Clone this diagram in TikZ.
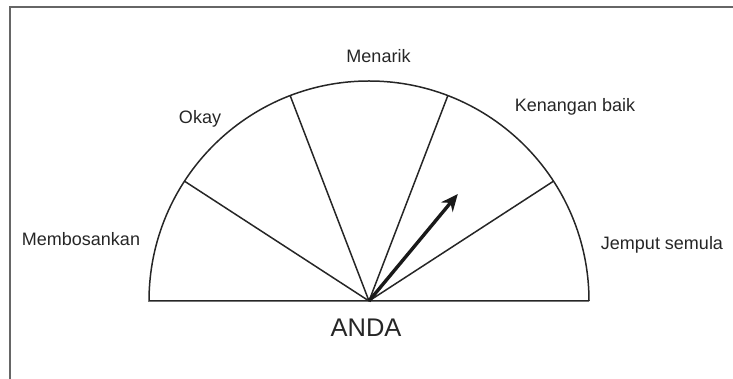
\documentclass[tikz,border=0pt]{standalone}
\usepackage{fontspec}
\setmainfont{Liberation Sans}
\usetikzlibrary{arrows.meta, calc}

\begin{document}
\begin{tikzpicture}[x=1pt, y=1pt,
    lbl/.style={font=\fontsize{18}{21}\selectfont, text=black!85, inner sep=0pt, anchor=base},
    ray/.style={draw=black!85, line width=1.5pt},
    arrow/.style={-{Stealth[length=17pt, width=15pt]}, line width=3.4pt, black!90}
]
    \useasboundingbox (0,0) rectangle (733,379);

    % Frame of the page box
    \draw[line width=2pt, black!60] (10,0) -- (10,372) -- (733,372);

    % Centre and rim points
    \coordinate (anda) at (369,78);
    \coordinate (rimL) at ($(anda)+(180:220)$);
    \coordinate (rimR) at ($(anda)+(0:220)$);

    % Half disc
    \draw[ray] (rimR) arc[start angle=0, end angle=180, radius=220] -- (rimR);

    % Sector lines
    \foreach \a/\n in {33/r1, 69/r2, 111/r3, 147/r4} {
        \coordinate (\n) at ($(anda)+(\a:220)$);
        \draw[ray] (anda) -- (\n);
    }

    % Pointer
    \coordinate (tip) at ($(anda)+(50.3:139)$);
    \draw[arrow] (anda) -- (tip);

    % Labels
    \node[lbl] (menarik) at (378.5,316.3) {Menarik};
    \node[lbl] (okay) at (200,255) {Okay};
    \node[lbl] (kenangan) at (575,267.3) {Kenangan baik};
    \node[lbl] (bosan) at (81,133.5) {Membosankan};
    \node[lbl] (jemput) at (662,129.7) {Jemput semula};
    \node[lbl, font=\fontsize{25.5}{28}\selectfont] (you) at (366,42.3) {ANDA};

\end{tikzpicture}
\end{document}
